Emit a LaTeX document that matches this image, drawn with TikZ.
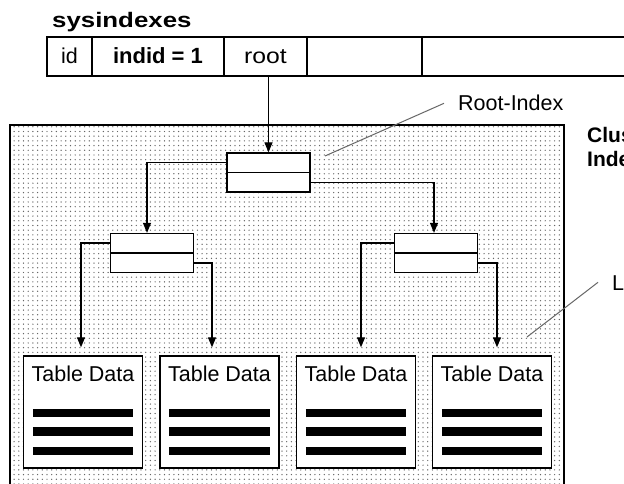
\documentclass[tikz,border=0pt]{standalone}
\usepackage{graphicx}
\usepackage{fontspec}
\setmainfont{Liberation Sans}
\usepackage{tikz}
\usetikzlibrary{
    arrows.meta,
    calc,
    patterns,
    positioning
}

\pgfdeclarepatternformonly{finedots}{\pgfqpoint{-1pt}{-1pt}}{\pgfqpoint{1pt}{1pt}}{\pgfqpoint{4.7pt}{4.7pt}}{
    \pgfpathcircle{\pgfpointorigin}{0.7pt}
    \pgfusepath{fill}
}

\begin{document}
\begin{tikzpicture}[x=1pt, y=-1pt,
        txt/.style={font=\fontsize{21.5}{25}\selectfont},
        cell/.style={draw, line width=1.2pt, minimum height=39pt, inner sep=0pt,
            text height=15pt, text depth=0pt, txt},
        idxbox/.style={draw, line width=1.3pt, fill=white, minimum width=83pt,
            minimum height=39pt, inner sep=0pt},
        leafbox/.style={draw, line width=1.4pt, fill=white, minimum width=119pt,
            minimum height=112pt, inner sep=0pt},
        link/.style={line width=1.2pt, -{Triangle[width=8pt, length=10pt]}},
        leader/.style={draw=black!60, line width=1pt}]
    \useasboundingbox (0, 0) rectangle (624, 484);
    \fill[white] (0, 0) rectangle (624, 484);
    \clip (0, 0) rectangle (624, 484);

    \node[anchor=base west, inner sep=0pt, font=\bfseries\fontsize{21}{25}\selectfont]
        (title) at (52, 28) {\scalebox{1.23}[1]{sysindexes}};

    \node[cell, minimum width=45pt] (cid) at (69.5, 56.5) {id};
    \node[cell, minimum width=132pt, font=\bfseries\fontsize{22}{26}\selectfont]
        (cindid) at (158, 56.5) {indid = 1};
    \node[cell, minimum width=83pt] (croot) at (265.5, 56.5) {\scalebox{1.15}[1]{root}};
    \node[cell, minimum width=115pt] (cfree) at (364.5, 56.5) {};
    \node[cell, minimum width=220pt] (crest) at (532, 56.5) {};

    \draw[line width=1.4pt, pattern=finedots, pattern color=black!60]
        (10, 125) rectangle (564, 495);

    \node[idxbox] (root) at (268.5, 172.5) {};
    \node[idxbox] (lmid) at (152, 253) {};
    \node[idxbox] (rmid) at (436, 253) {};
    \foreach \n in {root, lmid, rmid}
        \draw[line width=1.2pt] (\n.west) -- (\n.east);

    \node[leafbox] (leaf1) at (83, 412) {};
    \node[leafbox] (leaf2) at (219.5, 412) {};
    \node[leafbox] (leaf3) at (356, 412) {};
    \node[leafbox] (leaf4) at (492, 412) {};
    \foreach \k in {1, ..., 4} {
        \node[txt, anchor=base] (cap\k) at ($(leaf\k.north) + (0, 26)$) {Table Data};
        \foreach \dy in {57.5, 76, 95.5}
            \draw[line width=8.5pt] ($(leaf\k.north west) + (10, \dy)$)
                -- ($(leaf\k.north east) + (-10, \dy)$);
    }

    \draw[link] (root.north |- croot.south) -- (root.north);
    \draw[link] ([yshift=10pt]root.west) -| ([xshift=-5pt]lmid.north);
    \draw[link] ([yshift=-10pt]root.east) -| ([xshift=-2pt]rmid.north);
    \draw[link] ([yshift=10pt]lmid.west) -| ($(leaf1.north) + (-2, -8)$);
    \draw[link] ([yshift=-10pt]lmid.east) -| ($(leaf2.north) + (-7.5, -8)$);
    \draw[link] ([yshift=10pt]rmid.west) -| ($(leaf3.north) + (5, -8)$);
    \draw[link] ([yshift=-10pt]rmid.east) -| ($(leaf4.north) + (5, -8)$);

    \node[txt, anchor=base west, inner sep=0pt] (rootlbl) at (458, 111) {Root-Index};
    \coordinate (rootptr) at (325, 156);
    \draw[leader] (rootptr) -- ([xshift=-14pt]rootlbl.west);

    \node[txt, anchor=base west, inner sep=0pt] (leaflbl) at (612, 290) {Leaf-Level};
    \coordinate (leafptr) at (527, 337);
    \draw[leader] (leafptr) -- ([xshift=-14pt]leaflbl.west);

    \node[anchor=north west, align=left, inner sep=0pt,
        font=\bfseries\fontsize{21}{24}\selectfont] (cluslbl) at (587, 127.5) {Clustered\\Index};
\end{tikzpicture}
\end{document}
